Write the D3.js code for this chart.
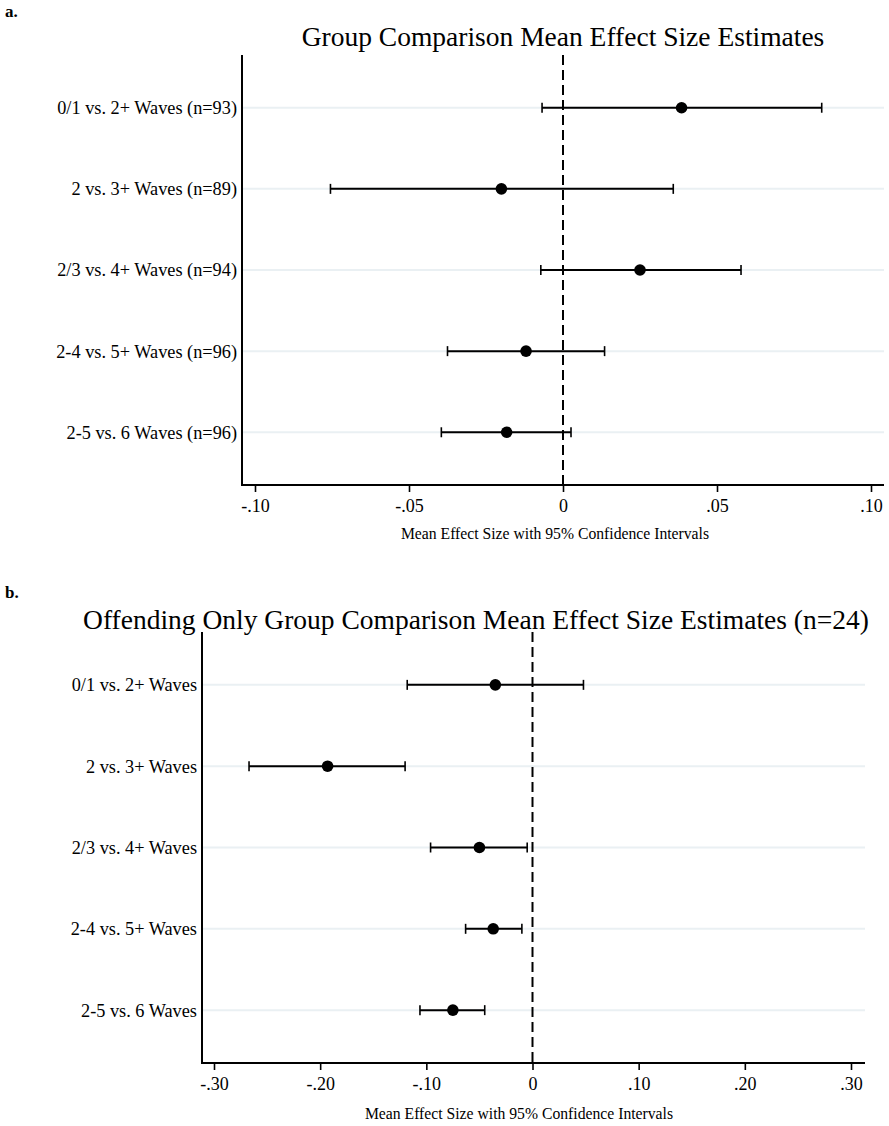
<!DOCTYPE html>
<html><head><meta charset="utf-8">
<script src="https://cdn.jsdelivr.net/npm/d3@7"></script>
<style>body{margin:0;background:#fff}svg{display:block}text{font-family:"Liberation Serif","Times New Roman",serif;fill:#000}</style>
</head><body>
<script>
// ---- data ----
const labelsA = ["0/1 vs. 2+ Waves (n=93)","2 vs. 3+ Waves (n=89)","2/3 vs. 4+ Waves (n=94)","2-4 vs. 5+ Waves (n=96)","2-5 vs. 6 Waves (n=96)"];
const meanA = [0.0385, -0.0200, 0.0250, -0.0120, -0.0183];
const lowA  = [-0.0068, -0.0755, -0.0072, -0.0375, -0.0395];
const highA = [0.0840, 0.0358, 0.0578, 0.0135, 0.0026];
const ticksA = [-0.10, -0.05, 0, 0.05, 0.10];
const tickLabelsA = ["-.10", "-.05", "0", ".05", ".10"];

const labelsB = ["0/1 vs. 2+ Waves","2 vs. 3+ Waves","2/3 vs. 4+ Waves","2-4 vs. 5+ Waves","2-5 vs. 6 Waves"];
const meanB = [-0.035, -0.193, -0.050, -0.037, -0.075];
const lowB  = [-0.118, -0.267, -0.096, -0.063, -0.106];
const highB = [0.048, -0.120, -0.005, -0.010, -0.045];
const ticksB = [-0.30, -0.20, -0.10, 0, 0.10, 0.20, 0.30];
const tickLabelsB = ["-.30", "-.20", "-.10", "0", ".10", ".20", ".30"];

const titleA = "Group Comparison Mean Effect Size Estimates";
const titleB = "Offending Only Group Comparison Mean Effect Size Estimates (n=24)";
const xTitle = "Mean Effect Size with 95% Confidence Intervals";

const svg = d3.select("body").append("svg").attr("width", 889).attr("height", 1126);

function panel(o) {
  const g = svg.append("g");
  const x = d3.scaleLinear().domain([o.ticks[0], o.ticks[o.ticks.length-1]]).range([o.x0, o.x1]);
  const y = d3.scaleLinear().domain([0.35, 5.65]).range([o.top, o.bottom]);
  g.append("text").attr("x", 5).attr("y", o.letterY).attr("font-size", 17).attr("font-weight", "bold").text(o.letter);
  g.append("text").attr("x", o.titleX).attr("y", o.titleY).attr("text-anchor", "middle").attr("font-size", 27.5).text(o.title);
  g.selectAll(".grid").data(o.labels).enter().append("line")
    .attr("x1", o.axisL).attr("x2", o.axisR)
    .attr("y1", (d,i)=>y(i+1)).attr("y2", (d,i)=>y(i+1))
    .attr("stroke", "#eaf0f3").attr("stroke-width", 2);
  g.selectAll(".lab").data(o.labels).enter().append("text")
    .attr("x", o.axisL - 5).attr("y", (d,i)=>y(i+1)).attr("dy", "0.35em")
    .attr("text-anchor", "end").attr("font-size", 18.3).text(d=>d);
  g.append("line").attr("x1", x(0)).attr("x2", x(0)).attr("y1", o.top).attr("y2", o.bottom)
    .attr("stroke", "#000").attr("stroke-width", 2).attr("stroke-dasharray", "10,5");
  const rows = o.labels.map((d,i)=>({i, m:o.mean[i], lo:o.low[i], hi:o.high[i]}));
  g.selectAll(".eb").data(rows).enter().append("line")
    .attr("x1", d=>x(d.lo)).attr("x2", d=>x(d.hi)).attr("y1", d=>y(d.i+1)).attr("y2", d=>y(d.i+1))
    .attr("stroke", "#000").attr("stroke-width", 2);
  ["lo","hi"].forEach(k=>{
    g.selectAll(".cap"+k).data(rows).enter().append("line")
      .attr("x1", d=>x(d[k])).attr("x2", d=>x(d[k])).attr("y1", d=>y(d.i+1)-5).attr("y2", d=>y(d.i+1)+5)
      .attr("stroke", "#000").attr("stroke-width", 1.6);
  });
  g.selectAll(".pt").data(rows).enter().append("circle")
    .attr("cx", d=>x(d.m)).attr("cy", d=>y(d.i+1)).attr("r", 5.8).attr("fill", "#000");
  g.append("line").attr("x1", o.axisL).attr("x2", o.axisL).attr("y1", o.axisTop).attr("y2", o.bottom+1)
    .attr("stroke", "#000").attr("stroke-width", 2);
  const ax = d3.axisBottom(x).tickValues(o.ticks).tickFormat((d,i)=>o.tickLabels[i]).tickSize(7).tickPadding(7);
  const axg = g.append("g").attr("transform", `translate(0,${o.bottom})`).call(ax);
  axg.select(".domain").remove();
  axg.selectAll(".tick line").attr("stroke", "#000").attr("stroke-width", 1.6);
  axg.selectAll(".tick text").attr("font-size", 18).attr("font-family", "Liberation Serif");
  g.append("line").attr("x1", o.axisL-1).attr("x2", o.axisR).attr("y1", o.bottom).attr("y2", o.bottom)
    .attr("stroke", "#000").attr("stroke-width", 2);
  g.append("text").attr("x", o.xTitleX).attr("y", o.xTitleY).attr("text-anchor", "middle").attr("font-size", 15.7).text(xTitle);
}

panel({letter:"a.", letterY:17, title:titleA, titleX:563, titleY:46,
  labels:labelsA, mean:meanA, low:lowA, high:highA, ticks:ticksA, tickLabels:tickLabelsA,
  x0:255, x1:871, axisL:242, axisR:884, axisTop:55, top:55, bottom:485, xTitleX:555, xTitleY:539});
panel({letter:"b.", letterY:598, title:titleB, titleX:476, titleY:629,
  labels:labelsB, mean:meanB, low:lowB, high:highB, ticks:ticksB, tickLabels:tickLabelsB,
  x0:214, x1:851, axisL:202, axisR:865, axisTop:632, top:632, bottom:1063, xTitleX:519, xTitleY:1119});
</script>
</body></html>
